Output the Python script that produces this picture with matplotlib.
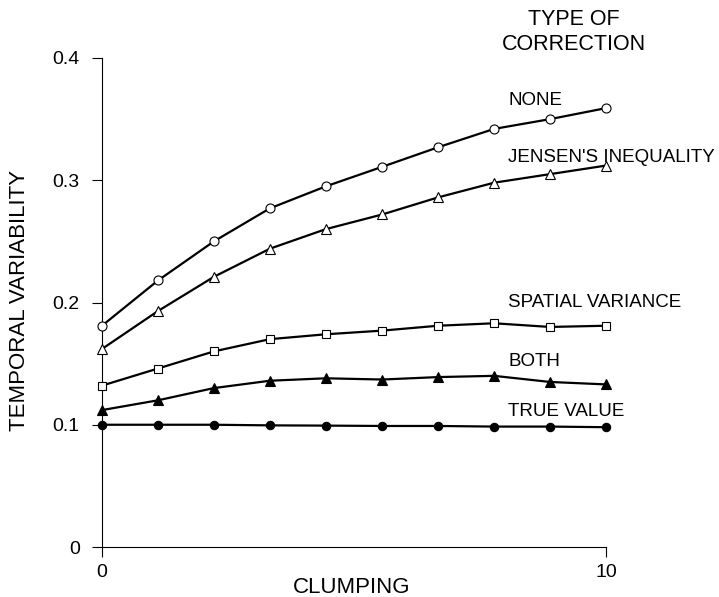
import matplotlib
matplotlib.use("Agg")
import matplotlib.pyplot as plt

# clumping values (10 points spanning 0..10)
clumping = [0, 1.11, 2.22, 3.33, 4.44, 5.56, 6.67, 7.78, 8.89, 10]

none_vals = [0.181, 0.218, 0.250, 0.277, 0.295, 0.311, 0.327, 0.342, 0.350, 0.359]
jensen_vals = [0.162, 0.193, 0.221, 0.244, 0.260, 0.272, 0.286, 0.298, 0.305, 0.312]
spatial_vals = [0.132, 0.146, 0.160, 0.170, 0.174, 0.177, 0.181, 0.183, 0.180, 0.181]
both_vals = [0.112, 0.120, 0.130, 0.136, 0.138, 0.137, 0.139, 0.140, 0.135, 0.133]
true_vals = [0.100, 0.100, 0.100, 0.0995, 0.0993, 0.099, 0.099, 0.0985, 0.0985, 0.098]

series = [
    ("NONE", none_vals, "o", "white", 6.5),
    ("JENSEN'S INEQUALITY", jensen_vals, "^", "white", 7),
    ("SPATIAL VARIANCE", spatial_vals, "s", "white", 5.5),
    ("BOTH", both_vals, "^", "black", 7),
    ("TRUE VALUE", true_vals, "o", "black", 6),
]
label_y = [0.365, 0.319, 0.200, 0.152, 0.111]

plt.rcParams["font.family"] = ["Liberation Sans", "DejaVu Sans"]

fig = plt.figure(figsize=(7.19, 5.97), dpi=100)
ax = fig.add_axes([102 / 719, 50 / 597, 504 / 719, 489 / 597])

for name, vals, mk, fc, ms in series:
    ax.plot(clumping, vals, color="black", lw=1.6, marker=mk, ms=ms,
            mfc=fc, mec="black", mew=0.8, clip_on=False, zorder=3)

for (name, *_), ly in zip(series, label_y):
    ax.text(8.06, ly, name, fontsize=13.5, va="center", ha="left")

# legend heading, two lines centred over the labels
fig.text(574 / 719, 1 - 25 / 597, "TYPE OF", fontsize=15.5, ha="center", va="baseline")
fig.text(574 / 719, 1 - 50 / 597, "CORRECTION", fontsize=15.5, ha="center", va="baseline")

ax.set_xlim(0, 10)
ax.set_ylim(0, 0.4)
ax.set_xticks([0, 10])
ax.set_xticklabels(["0", "10"])
ax.set_yticks([0, 0.1, 0.2, 0.3, 0.4])
ax.set_yticklabels(["0", "0.1", "0.2", "0.3", "0.4"])
ax.tick_params(direction="out", length=7, width=0.8, labelsize=14)
ax.tick_params(axis="y", pad=9)
ax.tick_params(axis="x", pad=5)
for side in ("top", "right"):
    ax.spines[side].set_visible(False)
for side in ("left", "bottom"):
    ax.spines[side].set_linewidth(0.8)

ax.set_xlabel("CLUMPING", fontsize=16)
ax.xaxis.set_label_coords(0.496, -0.062)
ax.set_ylabel("TEMPORAL VARIABILITY", fontsize=16)
ax.yaxis.set_label_coords(-0.142, 0.505)

fig.savefig("out.png", dpi=100)
